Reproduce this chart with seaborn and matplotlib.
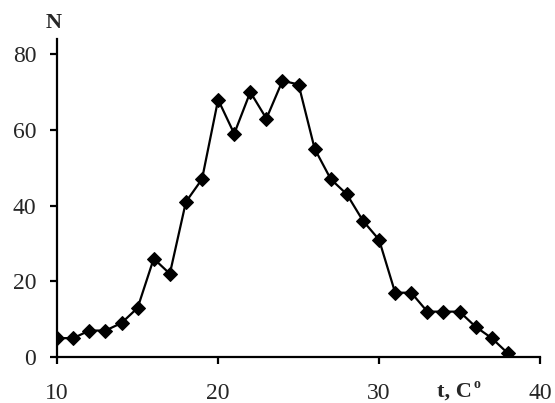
import matplotlib
matplotlib.use("Agg")
import matplotlib.pyplot as plt
import seaborn as sns
import pandas as pd

temperature = [10, 11, 12, 13, 14, 15, 16, 17, 18, 19, 20, 21, 22, 23, 24, 25, 26, 27, 28, 29, 30, 31, 32, 33, 34, 35, 36, 37, 38]
count = [5, 5, 7, 7, 9, 13, 26, 22, 41, 47, 68, 59, 70, 63, 73, 72, 55, 47, 43, 36, 31, 17, 17, 12, 12, 12, 8, 5, 1]
x_ticks = [10, 20, 30, 40]
y_ticks = [0, 20, 40, 60, 80]

sns.set_theme(style="white")
plt.rcParams['font.family'] = ['Liberation Serif', 'DejaVu Serif']

df = pd.DataFrame({"t": temperature, "N": count})

fig = plt.figure(figsize=(5.55, 4.03), dpi=100)
ax = fig.add_axes([0.103, 0.114, 0.870, 0.789])
sns.lineplot(data=df, x="t", y="N", ax=ax, color="black", linewidth=1.6,
             marker="D", markersize=7.5, markeredgecolor="black", markerfacecolor="black")

ax.set_xlim(10, 40)
ax.set_ylim(0, 84)
ax.set_xticks(x_ticks)
ax.set_yticks(y_ticks)
ax.set_xticklabels([str(v) for v in x_ticks], fontsize=17)
ax.set_yticklabels([str(v) for v in y_ticks], fontsize=17)
ax.set_xlabel("")
ax.set_ylabel("")

for side in ["top", "right"]:
    ax.spines[side].set_visible(False)
for side in ["left", "bottom"]:
    ax.spines[side].set_color("black")
    ax.spines[side].set_linewidth(1.6)

ax.tick_params(axis="x", direction="out", length=5, width=1.6, color="black", pad=14, bottom=True)
ax.tick_params(axis="y", direction="out", length=5, width=1.6, color="black", pad=10, left=True)

fig.text(54 / 555, 1 - 23 / 403, "N", fontsize=16, fontweight="bold", ha="center", va="center")
fig.text(472 / 555, 1 - 392 / 403, "t, C", fontsize=16, fontweight="bold", ha="right", va="center")
fig.text(473 / 555, 1 - 385 / 403, "o", fontsize=10, fontweight="bold", ha="left", va="center")

fig.savefig("out.png", dpi=100)
